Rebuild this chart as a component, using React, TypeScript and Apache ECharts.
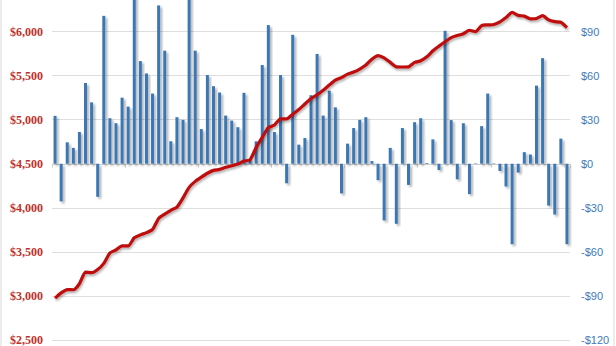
import React, { useEffect, useRef } from "react";
import * as echarts from "echarts";

const months: string[] = Array.from({ length: 85 }, (_, i) => `M${i + 1}`);

const lineValues: number[] = [
  2975, 3035, 3072, 3070, 3138, 3270, 3264, 3300, 3370, 3487,
  3522, 3568, 3567, 3660, 3693, 3718, 3755, 3880, 3928, 3972,
  4008, 4112, 4232, 4300, 4348, 4392, 4425, 4436, 4460, 4478,
  4497, 4530, 4545, 4685, 4800, 4909, 4940, 5009, 5009, 5062,
  5115, 5178, 5241, 5283, 5335, 5393, 5448, 5478, 5517, 5540,
  5575, 5620, 5687, 5728, 5702, 5650, 5600, 5598, 5600, 5650,
  5668, 5713, 5782, 5835, 5885, 5932, 5955, 5975, 6015, 6000,
  6068, 6076, 6080, 6110, 6160, 6218, 6184, 6175, 6145, 6148,
  6180, 6132, 6113, 6105, 6045,
];

const barValues: number[] = [
  32.6, -25.6, 14.6, 10.8, 21.6, 55, 41.8, -22.5, 100.7, 31,
  27.6, 45, 38.9, 115, 69.9, 61.5, 47.8, 107.8, 77, 15.3,
  31.7, 29.9, 115, 77, 23.6, 60.4, 52.8, 48.5, 32.8, 29.4,
  24.9, 48.3, 3, 15.3, 67.2, 94.4, 21.6, 60.4, -13.3, 87.8,
  13, 17.5, 46.7, 74.8, 32.8, 49.7, 38.4, -20.2, 13.7, 24.3,
  29.9, 31.7, 1.8, -11.2, -38.6, 10.8, -40.9, 24.3, -14.4, 28.3,
  31, 0.5, 16.6, -4.3, 90.5, 29.7, -10.6, 27.6, -20.7, 0.3,
  25.6, 47.8, 0.3, -4.9, -15.5, -54.8, -6, 7.9, 6.3, 53.2,
  71.9, -28.5, -34.6, 17.1, -54.8,
];

const leftTicks = { min: 2500, max: 6500, interval: 500 };
const rightTicks = { min: -120, max: 120, interval: 30 };

export default function App() {
  const ref = useRef<HTMLDivElement>(null);
  useEffect(() => {
    if (!ref.current) return;
    const chart = echarts.init(ref.current, null, { renderer: "svg" });
    chart.setOption({
      animation: false,
      backgroundColor: "#ffffff",
      graphic: [
        {
          type: "rect",
          shape: { x: 1, y: 19, width: 613, height: 350 },
          style: { fill: "none", stroke: "#d9d9d9", lineWidth: 1 },
          silent: true,
        },
      ],
      grid: { left: 52, right: 46, top: 7.5, bottom: 2, containLabel: false },
      xAxis: {
        type: "category",
        data: months,
        boundaryGap: true,
        axisLine: { show: true, lineStyle: { color: "#d0d0d0" } },
        axisTick: { show: true, interval: 11, length: 4, lineStyle: { color: "#d0d0d0" } },
        axisLabel: { show: false },
        splitLine: { show: false },
      },
      yAxis: [
        {
          type: "value",
          min: leftTicks.min,
          max: leftTicks.max,
          interval: leftTicks.interval,
          position: "left",
          axisLine: { show: false },
          axisTick: { show: false },
          splitLine: { show: true, lineStyle: { color: "#dedede", width: 1 } },
          axisLabel: {
            margin: 9,
            showMaxLabel: false,
            color: "#c0302a",
            fontFamily: "Liberation Serif",
            fontWeight: "bold",
            fontSize: 12,
            formatter: (v: number) => "$" + v.toLocaleString("en-US"),
          },
        },
        {
          type: "value",
          min: rightTicks.min,
          max: rightTicks.max,
          interval: rightTicks.interval,
          position: "right",
          axisLine: { show: false },
          axisTick: { show: false },
          splitLine: { show: false },
          axisLabel: {
            margin: 11,
            showMaxLabel: false,
            color: "#3d7ab8",
            fontFamily: "Liberation Sans",
            fontSize: 11,
            formatter: (v: number) => (v < 0 ? "-$" + Math.abs(v) : "$" + v),
          },
        },
      ],
      series: [
        {
          type: "bar",
          yAxisIndex: 1,
          data: barValues,
          barWidth: 3,
          itemStyle: {
            color: "#3a77b4",
            shadowColor: "rgba(0,0,0,0.3)",
            shadowBlur: 2,
            shadowOffsetX: 2,
            shadowOffsetY: 2,
          },
        },
        {
          type: "line",
          yAxisIndex: 0,
          data: lineValues,
          smooth: 0.2,
          symbol: "none",
          lineStyle: {
            color: "#bf0a0a",
            width: 3.2,
            shadowColor: "rgba(0,0,0,0.3)",
            shadowBlur: 2,
            shadowOffsetX: 1,
            shadowOffsetY: 2,
          },
        },
      ],
    });
    return () => chart.dispose();
  }, []);
  return (
    <div
      ref={ref}
      style={{ position: "absolute", left: 0, top: -20, width: 616, height: 366 }}
    />
  );
}
